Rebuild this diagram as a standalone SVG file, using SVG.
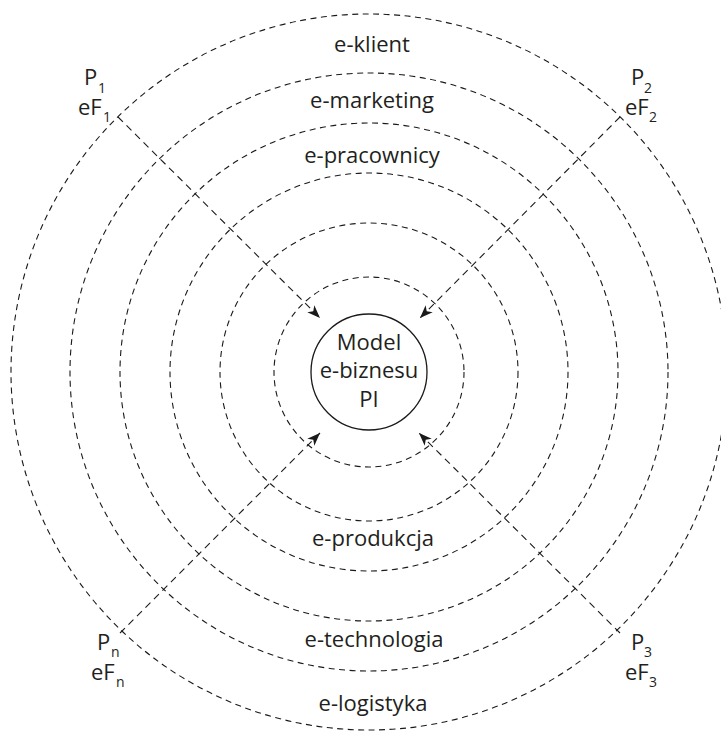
<svg xmlns="http://www.w3.org/2000/svg" width="721" height="732" viewBox="0 0 721 732">
<style>
.ring{fill:none;stroke:#1a1a1a;stroke-width:1.1;stroke-dasharray:6 4.5}
.ln{fill:none;stroke:#1a1a1a;stroke-width:1.1;stroke-dasharray:7 5}
.t{font-family:"Open Sans","Liberation Sans",sans-serif;font-size:22px;fill:#231f20;text-anchor:middle}
.l{font-family:"Open Sans","Liberation Sans",sans-serif;font-size:22px;fill:#231f20}
.s{font-size:14px}
</style>
<defs>
<marker id="ah" markerUnits="userSpaceOnUse" markerWidth="14" markerHeight="12" refX="13" refY="5" orient="auto" viewBox="0 0 14 10">
<path d="M0,0 L13,5 L0,10 L3.5,5 Z" fill="#1a1a1a"/>
</marker>
</defs>
<rect width="721" height="732" fill="#fff"/>
<g id="rings">
<circle class="ring" cx="369" cy="372" r="358"/>
<circle class="ring" cx="369" cy="372" r="299"/>
<circle class="ring" cx="369" cy="372" r="249"/>
<circle class="ring" cx="369" cy="372" r="199"/>
<circle class="ring" cx="369" cy="372" r="149"/>
<circle class="ring" cx="369" cy="372" r="95"/>
</g>
<g id="connectors">
<line class="ln" x1="118" y1="117" x2="320" y2="318" marker-end="url(#ah)"/>
<line class="ln" x1="620" y1="117" x2="420" y2="318" marker-end="url(#ah)"/>
<line class="ln" x1="120" y1="633" x2="320" y2="433" marker-end="url(#ah)"/>
<line class="ln" x1="620" y1="633" x2="419" y2="433" marker-end="url(#ah)"/>
</g>
<g id="center">
<circle cx="369" cy="372" r="58" fill="#fff" stroke="#1a1a1a" stroke-width="1.3"/>
<text class="t" x="369" y="350">Model</text>
<text class="t" x="369" y="378">e-biznesu</text>
<text class="t" x="369" y="407">PI</text>
</g>
<g id="ring-labels">
<text class="t" x="372" y="52">e-klient</text>
<text class="t" x="372" y="108">e-marketing</text>
<text class="t" x="372" y="163">e-pracownicy</text>
<text class="t" x="373" y="546">e-produkcja</text>
<text class="t" x="374" y="647">e-technologia</text>
<text class="t" x="373" y="711">e-logistyka</text>
</g>
<g id="p1">
<text class="l" x="84" y="85">P<tspan class="s" x="98" y="93">1</tspan></text>
<text class="l" x="78" y="115">eF<tspan class="s" x="103" y="122">1</tspan></text>
</g>
<g id="p2">
<text class="l" x="631" y="85">P<tspan class="s" x="644" y="93">2</tspan></text>
<text class="l" x="625" y="115">eF<tspan class="s" x="649" y="122">2</tspan></text>
</g>
<g id="pn">
<text class="l" x="97" y="650">P<tspan class="s" x="111" y="657">n</tspan></text>
<text class="l" x="91" y="680">eF<tspan class="s" x="116" y="687">n</tspan></text>
</g>
<g id="p3">
<text class="l" x="631" y="650">P<tspan class="s" x="644" y="657">3</tspan></text>
<text class="l" x="625" y="680">eF<tspan class="s" x="649" y="687">3</tspan></text>
</g>
</svg>
